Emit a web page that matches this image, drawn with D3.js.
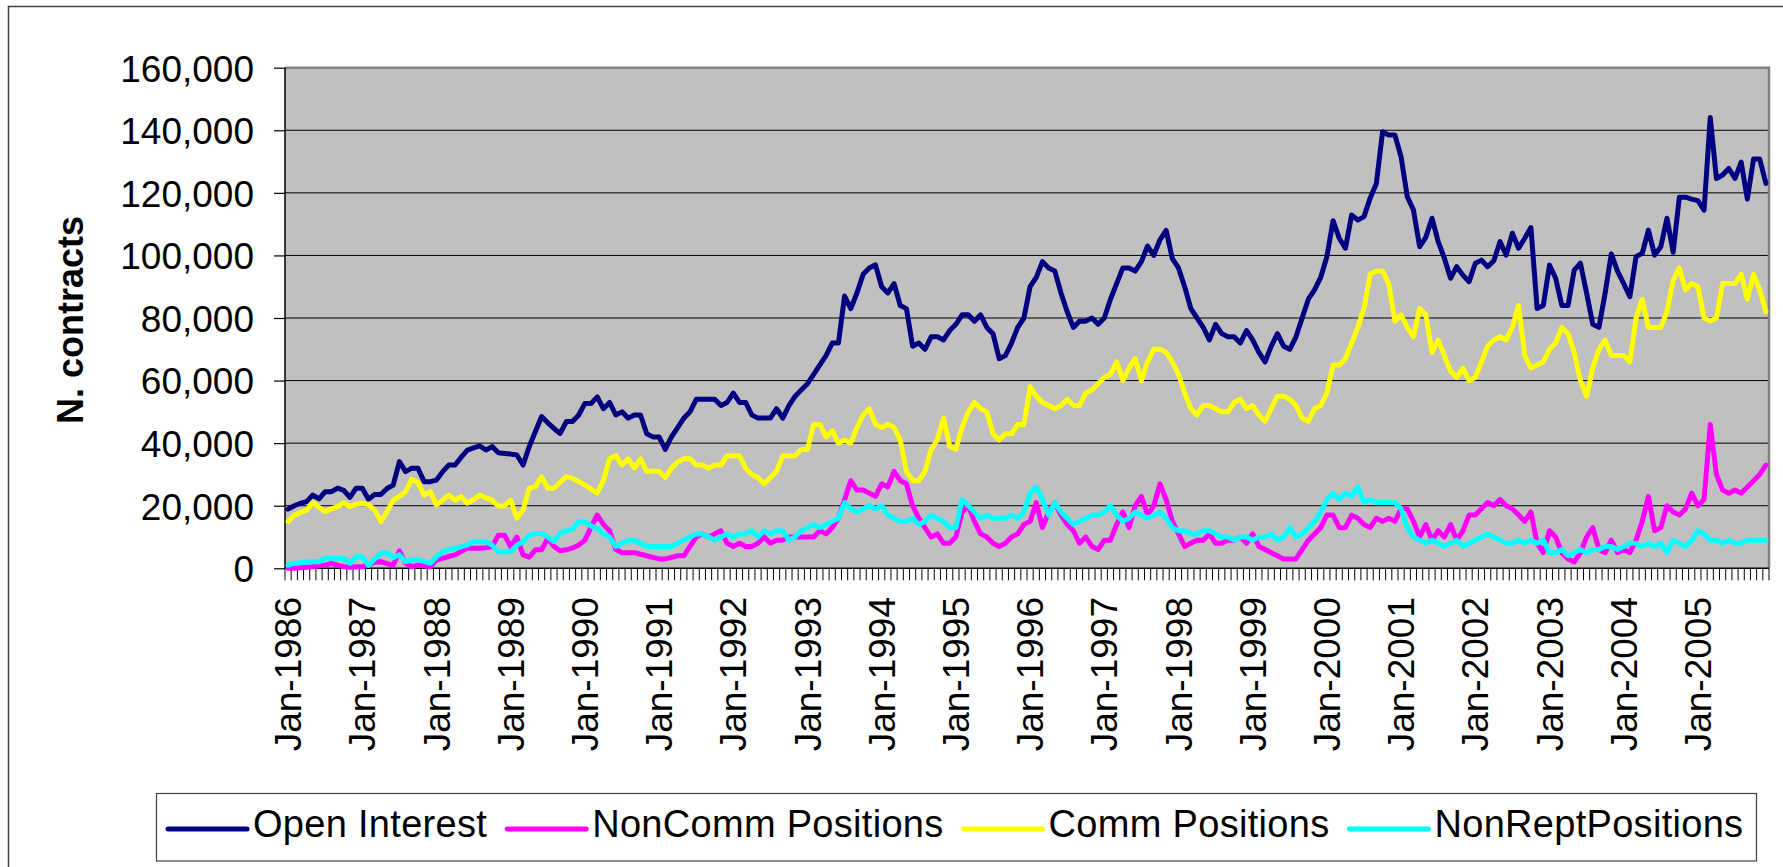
<!DOCTYPE html>
<html>
<head>
<meta charset="utf-8">
<script src="https://cdn.jsdelivr.net/npm/d3@7"></script>
<style>
  body { margin: 0; background: #fff; }
  svg { display: block; }
  text { font-family: "Liberation Sans", Arial, sans-serif; fill: #000; }
</style>
</head>
<body>
<svg id="chart" width="1783" height="867"></svg>
<script>
(function () {
    'use strict';

    // categories: one per month, Jan-1986 .. Dec-2005
    var startYear = 1986;
    var nYears = 20;
    var monthNames = ['Jan', 'Feb', 'Mar', 'Apr', 'May', 'Jun', 'Jul', 'Aug', 'Sep', 'Oct', 'Nov', 'Dec'];

    var yTickValues = [0, 20, 40, 60, 80, 100, 120, 140, 160];
    var yTickLabels = ['0', '20,000', '40,000', '60,000', '80,000', '100,000', '120,000', '140,000', '160,000'];

    var seriesNames = ['Open Interest', 'NonComm Positions', 'Comm Positions', 'NonReptPositions'];
    var seriesColors = ['#000080', '#ff00ff', '#ffff00', '#00ffff'];

    // values in thousands of contracts, one row per year
    var openInterest = [
        18.9, 20, 20.8, 21.3, 23.4, 22.2, 24.5, 24.5, 25.6, 24.9, 22.7, 25.6,
        25.6, 22.1, 23.6, 23.6, 25.5, 26.6, 34.1, 30.9, 32, 32, 27.7, 27.7,
        28.2, 30.9, 33, 33, 35.5, 37.8, 38.5, 39.1, 37.8, 38.9, 36.9, 36.7,
        36.5, 36.2, 33, 38.9, 43.7, 48.5, 46.5, 44.7, 43.1, 46.9, 46.9, 49,
        52.7, 52.7, 54.8, 51, 53, 49, 50, 48, 49, 49, 43, 42,
        42, 38, 42, 45, 48, 50, 54, 54, 54, 54, 52, 53,
        56, 53, 53, 49, 48, 48, 48, 51, 48, 52, 55, 57,
        59, 62, 65, 68, 72, 72, 87, 83, 88, 94, 96, 97,
        90, 88, 91, 84, 83, 71, 72, 70, 74, 74, 73, 76,
        78, 81, 81, 79, 81, 77, 75, 67, 68, 72, 77, 80,
        90, 93, 98, 96, 95, 88, 82, 77, 79, 79, 80, 78,
        80, 86, 91, 96, 96, 95, 98, 103, 100, 105, 108, 99,
        96, 90, 83, 80, 77, 73, 78, 75, 74, 74, 72, 76,
        73, 69, 66, 71, 75, 71, 70, 74, 80, 86, 89, 93,
        99.6, 111.1, 105.5, 102.3, 112.9, 111.3, 112.4, 118.3, 123, 139.5, 138.5, 138.5,
        131.5, 118.8, 114.5, 102.8, 105.8, 111.9, 104.4, 99.1, 92.7, 96.4, 93.7, 91.6,
        97.5, 98.5, 96.4, 98.3, 104.4, 100.1, 107.1, 102.3, 105.5, 108.9, 83, 84,
        96.9, 92.7, 84, 84, 95.3, 97.5, 88, 78, 77, 88, 100.5, 95,
        91, 86.8, 99.6, 100.7, 108.1, 100.1, 102.8, 111.9, 101, 118.6, 118.6, 118,
        117.5, 114.5, 144.1, 124.6, 125.7, 127.8, 124.6, 129.8, 118, 130.8, 130.8, 123
    ];

    var nonCommPositions = [
        0, 0, 0.2, 0.3, 0.5, 0.8, 1, 1.6, 1, 0.5, 0.3, 0.5,
        0.5, 1, 2, 2.1, 1.5, 1, 5.6, 1.6, 0.5, 1, 0.8, 0.5,
        2.7, 3.2, 3.8, 4.3, 5.4, 6.4, 6.4, 6.4, 6.6, 6.9, 10.6, 10.6,
        6.9, 10, 4.3, 3.6, 5.9, 5.9, 9.6, 7, 5.6, 5.9, 6.5, 7.4,
        9, 13.2, 17, 14, 12, 6, 5, 5, 5, 4.5, 4, 3.5,
        3, 3, 3.5, 4, 4, 7, 10, 11, 10, 11, 12, 8,
        7, 8, 7, 7, 8, 10, 8, 9, 9, 10, 10, 10,
        10, 10, 12, 11, 13, 16, 22, 28, 25, 25, 24, 23,
        27, 26, 31, 28, 27, 20, 16, 13, 10, 11, 8, 8,
        10, 18, 20, 15, 11, 10, 8, 7, 8, 10, 11, 14,
        15, 21, 13, 18, 21, 17, 14, 12, 8, 10, 7, 6,
        9, 9, 14, 18, 13, 20, 23, 17, 20, 27, 22, 15,
        11, 7, 8, 9, 9, 11, 8, 8, 9, 9, 10, 8,
        11, 7, 6, 5, 4, 3, 3, 3, 6, 9, 11, 13,
        17, 17, 13, 13, 17, 16, 14, 13, 16, 15, 16, 15,
        19, 19, 15, 10, 14, 9, 12, 10, 14, 9, 12, 17,
        17, 19, 21, 20, 22, 20, 19, 17, 15, 18, 8, 5,
        12, 10, 5, 3, 2, 5, 10, 13, 6, 5, 9, 5,
        6, 5, 9, 15, 23, 12, 13, 20, 18, 17, 19, 24,
        20, 22, 46, 30, 25, 24, 25, 24, 26, 28, 30, 33
    ];

    var commPositions = [
        14.9, 17, 17.8, 18.6, 21, 19.5, 18.1, 19, 19.7, 21, 19.7, 20.5,
        20.8, 20.4, 18.6, 14.9, 18, 21.8, 23, 24.5, 28.4, 27.4, 23.4, 24.5,
        20.2, 21.8, 23.4, 21.8, 22.9, 20.8, 22, 23.4, 22.5, 21.8, 19.9, 19.9,
        21.8, 16, 18.6, 25.6, 26.1, 29.3, 25.6, 25.6, 27.5, 29.3, 28.8, 27.7,
        26.6, 25.3, 24, 28, 35, 36, 33, 35, 32, 35, 31, 31,
        31, 29, 32, 34, 35, 35, 33, 33, 32, 33, 33, 36,
        36, 36, 32, 30, 29, 27, 29, 31, 36, 36, 36, 38,
        38, 46, 46, 42, 44, 40, 41, 40, 45, 49, 51, 46,
        45, 46, 45, 41, 31, 28, 28, 31, 38, 41, 48, 39,
        38, 45, 50, 53, 51, 50, 43, 41, 43, 43, 46, 46,
        58, 55, 53, 52, 51, 52, 54, 52, 52, 56, 57, 59,
        61, 62, 66, 60, 64, 67, 60, 66, 70, 70, 69, 66,
        62, 56, 51, 49, 52, 52, 51, 50, 50, 53, 54, 51,
        52, 49, 47, 51, 55, 55, 54, 52, 48, 47, 51, 52,
        56, 65, 65, 67, 72, 77, 83, 94, 95, 95, 91, 79,
        81, 77, 74, 83, 81, 69, 73, 68, 63, 61, 64, 60,
        61, 66, 71, 73, 74, 73, 77, 84, 68, 64, 65, 66,
        70, 72, 77, 75, 69, 60, 55, 64, 70, 73, 68, 68,
        68, 66, 80, 86, 77, 77, 77, 82, 92, 96, 89, 91,
        90, 80, 79, 80, 91, 91, 91, 94, 86, 94, 89, 82
    ];

    var nonReptPositions = [
        1, 1.6, 1.8, 2, 2.1, 2.1, 3.2, 3.2, 3.2, 3.2, 1.6, 3.7,
        3.7, 1, 3, 4.8, 5, 3.4, 4.3, 2.1, 2.7, 2.7, 2.2, 1.6,
        3.7, 5.3, 6, 6.4, 6.9, 7.5, 8.5, 8.5, 8.5, 7.4, 5.3, 5.3,
        5.3, 7.4, 8.5, 10.6, 11, 11.2, 10, 8.5, 11.2, 12, 12.5, 14.9,
        14.9, 13.5, 12.8, 11, 10, 7, 8, 9, 9, 8, 7, 7,
        7, 7, 7, 8, 9, 10, 11, 11, 10, 9, 10, 11,
        10, 11, 11, 12, 10, 12, 11, 12, 12, 9, 10, 12,
        13, 14, 13, 14, 15, 16, 21, 19, 18, 19, 20, 19,
        20, 17, 16, 15, 15, 16, 14, 15, 17, 16, 15, 13,
        13, 22, 20, 18, 16, 17, 16, 16, 16, 17, 16, 18,
        24, 26, 22, 17, 21, 18, 16, 14, 15, 16, 17, 17,
        18, 20, 17, 15, 16, 18, 17, 16, 17, 18, 16, 13,
        12, 12, 11, 11, 12, 12, 11, 10, 10, 9, 10, 10,
        9, 10, 10, 11, 9, 10, 13, 10, 11, 13, 15, 18,
        22, 24, 22, 24, 23, 26, 21, 22, 21, 21, 21, 21,
        19, 13, 10, 9, 8, 9, 8, 7, 8, 9, 7, 8,
        9, 10, 11, 10, 9, 8, 8, 9, 8, 9, 8, 9,
        5, 5, 6, 4, 5, 6, 5, 6, 6, 7, 7, 6,
        7, 8, 8, 7, 8, 7, 8, 5, 9, 8, 7, 9,
        12, 11, 9, 9, 8, 9, 8, 8, 9, 9, 9, 9
    ];

    var seriesValues = [openInterest, nonCommPositions, commPositions, nonReptPositions];

    var categories = d3.range(nYears * 12).map(function (i) {
        return monthNames[i % 12] + '-' + (startYear + Math.floor(i / 12));
    });

    var plot = { left: 285, top: 67.7, right: 1769, bottom: 568.3 };

    var svg = d3.select('#chart');

    // outer chart frame (runs off the right and bottom edges)
    svg.append('rect')
        .attr('x', 8.5).attr('y', 6.5)
        .attr('width', 1800).attr('height', 900)
        .attr('fill', '#fff')
        .attr('stroke', '#404040')
        .attr('stroke-width', 1.5);

    var x = d3.scaleBand()
        .domain(d3.range(categories.length))
        .range([plot.left, plot.right])
        .paddingInner(0).paddingOuter(0);

    var y = d3.scaleLinear()
        .domain([0, 160])
        .range([plot.bottom, plot.top]);

    var cx = function (i) { return x(i) + x.bandwidth() / 2; };

    // plot area
    svg.append('rect')
        .attr('x', plot.left).attr('y', plot.top)
        .attr('width', plot.right - plot.left)
        .attr('height', plot.bottom - plot.top)
        .attr('fill', '#c0c0c0');

    // gridlines
    svg.append('g').selectAll('line')
        .data(yTickValues.filter(function (v) { return v > 0 && v < 160; }))
        .enter().append('line')
        .attr('x1', plot.left).attr('x2', plot.right)
        .attr('y1', function (v) { return y(v); })
        .attr('y2', function (v) { return y(v); })
        .attr('stroke', '#000')
        .attr('stroke-width', 1);

    // plot border (top/right grey)
    svg.append('path')
        .attr('d', 'M' + plot.left + ',' + plot.top + 'H' + plot.right + 'V' + plot.bottom)
        .attr('fill', 'none')
        .attr('stroke', '#808080')
        .attr('stroke-width', 2.5);

    // y axis
    var yAxis = svg.append('g')
        .attr('transform', 'translate(' + plot.left + ',0)')
        .call(d3.axisLeft(y)
            .tickValues(yTickValues)
            .tickFormat(function (d, i) { return yTickLabels[i]; })
            .tickSize(11)
            .tickPadding(20));
    yAxis.select('.domain').remove();
    yAxis.selectAll('.tick line').attr('stroke', '#000').attr('stroke-width', 1.2);
    yAxis.selectAll('.tick text')
        .attr('dy', '0.36em')
        .style('font-size', '37px')
        .style('font-family', '"Liberation Sans", Arial, sans-serif')
        .attr('fill', '#000');

    // x tick marks at category boundaries
    var boundaries = d3.range(categories.length + 1).map(function (i) {
        return i < categories.length ? x(i) : plot.right;
    });
    svg.append('g').selectAll('line')
        .data(boundaries)
        .enter().append('line')
        .attr('x1', function (d) { return d; })
        .attr('x2', function (d) { return d; })
        .attr('y1', plot.bottom)
        .attr('y2', plot.bottom + 12)
        .attr('stroke', '#000')
        .attr('stroke-width', 1);

    // axis lines
    svg.append('line')
        .attr('x1', plot.left).attr('x2', plot.left)
        .attr('y1', plot.top).attr('y2', plot.bottom)
        .attr('stroke', '#000').attr('stroke-width', 1.5);
    svg.append('line')
        .attr('x1', plot.left).attr('x2', plot.right)
        .attr('y1', plot.bottom).attr('y2', plot.bottom)
        .attr('stroke', '#000').attr('stroke-width', 1.5);

    // x labels, one per January
    var janIdx = d3.range(categories.length).filter(function (i) { return i % 12 === 0; });
    svg.append('g').selectAll('text')
        .data(janIdx)
        .enter().append('text')
        .attr('transform', function (i) {
            return 'translate(' + (cx(i) + 13.2) + ',597) rotate(-90)';
        })
        .attr('text-anchor', 'end')
        .style('font-size', '37px')
        .text(function (i) { return categories[i]; });

    // y title
    svg.append('text')
        .attr('transform', 'translate(83,320) rotate(-90)')
        .attr('text-anchor', 'middle')
        .style('font-size', '36px')
        .style('font-weight', 'bold')
        .text('N. contracts');

    // series
    var line = d3.line()
        .x(function (d, i) { return cx(i); })
        .y(function (d) { return y(d); });

    svg.append('g').selectAll('path')
        .data(seriesValues)
        .enter().append('path')
        .attr('d', line)
        .attr('fill', 'none')
        .attr('stroke', function (d, i) { return seriesColors[i]; })
        .attr('stroke-width', 5)
        .attr('stroke-linejoin', 'round')
        .attr('stroke-linecap', 'round');

    // legend
    var legend = svg.append('g');
    legend.append('rect')
        .attr('x', 156.5).attr('y', 793.5)
        .attr('width', 1600).attr('height', 67.5)
        .attr('fill', '#fff')
        .attr('stroke', '#404040')
        .attr('stroke-width', 1.2);

    var lx = 168;
    seriesNames.forEach(function (name, i) {
        legend.append('line')
            .attr('x1', lx).attr('x2', lx + 79)
            .attr('y1', 829).attr('y2', 829)
            .attr('stroke', seriesColors[i])
            .attr('stroke-width', 5)
            .attr('stroke-linecap', 'round');
        var t = legend.append('text')
            .attr('x', lx + 85)
            .attr('y', 837)
            .style('font-size', '38px')
            .style('letter-spacing', '0.3px')
            .text(name);
        lx = lx + 85 + t.node().getComputedTextLength() + 20;
    });
})();
</script>
</body>
</html>
